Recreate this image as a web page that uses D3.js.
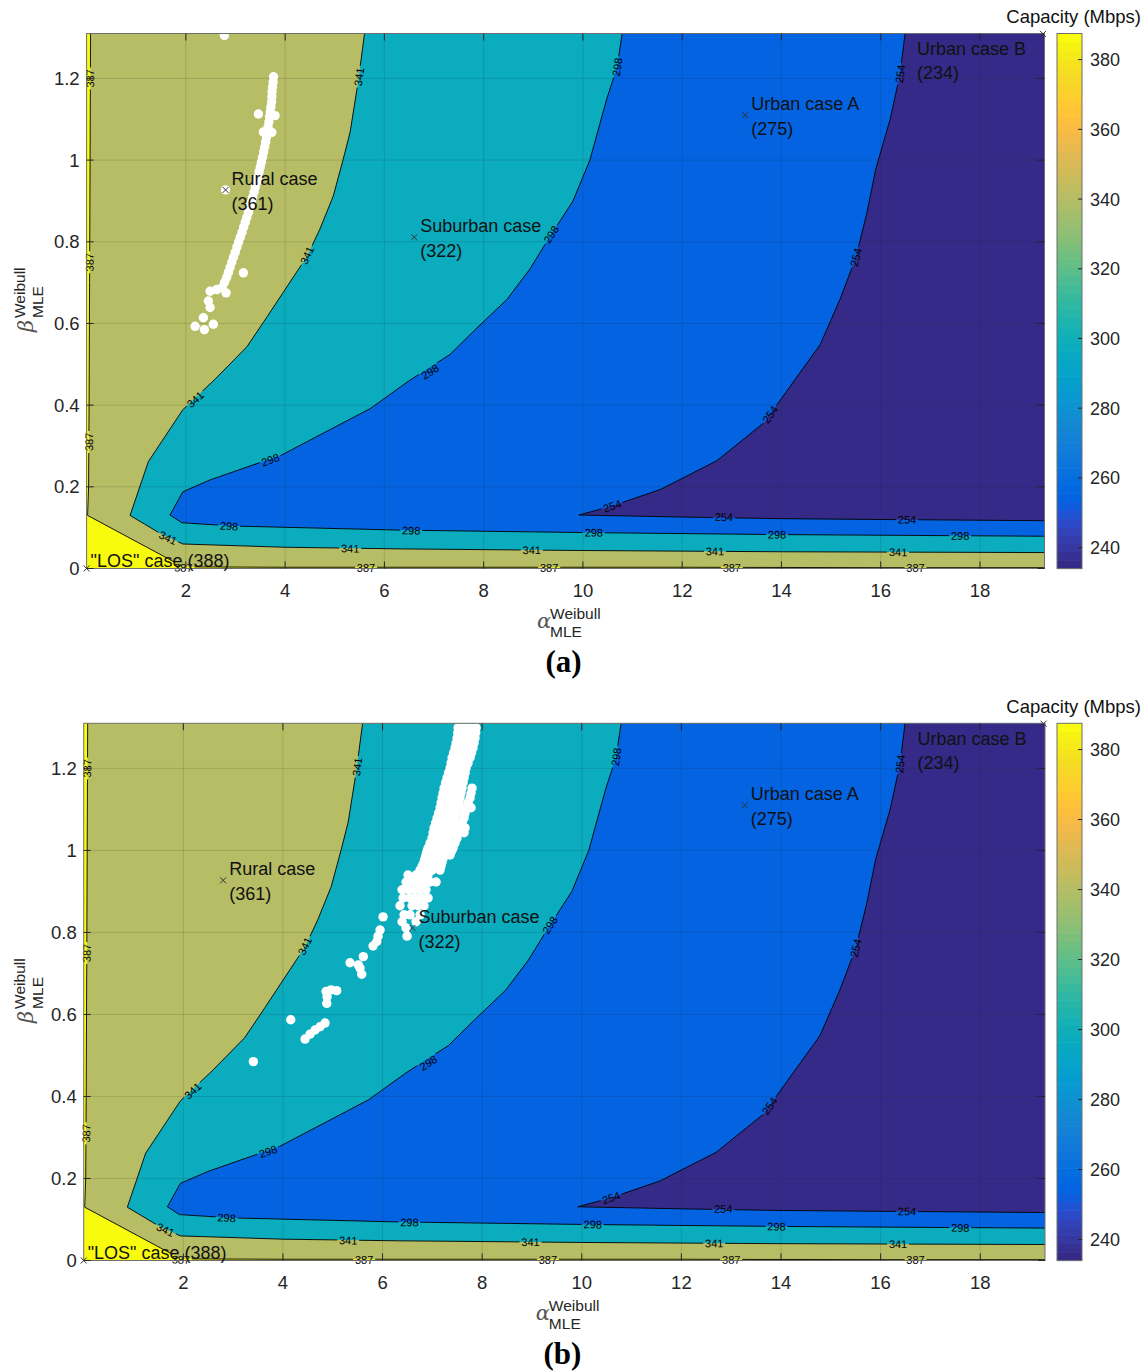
<!DOCTYPE html>
<html>
<head>
<meta charset="utf-8">
<script src="https://cdn.jsdelivr.net/npm/d3@7"></script>
<style>
  body { margin: 0; background: #fff; }
  svg text { font-family: "Liberation Sans", Arial, Helvetica, sans-serif; }
</style>
</head>
<body>
<svg id="chart" width="1147" height="1372"></svg>
<script>
// ---- Capacity field: contour levels (Mbps) and colour limits ----
const levels = [387, 341, 298, 254];
const colorLimits = [234, 387.5];

// ---- Axes ----
const alphaDomain = [0, 19.3];
const betaDomain = [0, 1.31];
const xTicks = [2, 4, 6, 8, 10, 12, 14, 16, 18];
const yTicks = [0, 0.2, 0.4, 0.6, 0.8, 1.0, 1.2];
const cbTicks = [240, 260, 280, 300, 320, 340, 360, 380];

// ---- Iso-capacity lines, [alpha, beta] ----
const contour387 = [[0.08, 1.31], [0.07, 1.0], [0.06, 0.7], [0.05, 0.4], [0.04, 0.2], [0.02, 0.13],
  [1.95, 0.004], [4, 0.003], [8, 0.003], [12, 0.003], [16, 0.002], [19.3, 0.002]];
const contour341 = [[5.60, 1.31], [5.47, 1.191], [5.31, 1.069], [5.17, 1.002], [4.97, 0.912], [4.70, 0.831],
  [4.44, 0.764], [3.96, 0.676], [3.64, 0.617], [3.23, 0.543], [2.60, 0.465], [1.94, 0.389], [1.245, 0.262],
  [0.876, 0.13], [1.48, 0.086], [1.94, 0.060], [4, 0.052], [6.32, 0.048], [10, 0.044], [14, 0.041], [19.3, 0.039]];
const contour298 = [[10.79, 1.31], [10.69, 1.228], [10.48, 1.15], [10.14, 1.0], [9.80, 0.90], [9.30, 0.806],
  [8.93, 0.733], [8.47, 0.659], [7.83, 0.585], [7.32, 0.524], [6.50, 0.460], [5.72, 0.392], [3.93, 0.278],
  [2.49, 0.217], [1.94, 0.188], [1.68, 0.131], [1.92, 0.112], [2.95, 0.104], [6.32, 0.094], [10, 0.088],
  [14, 0.083], [19.3, 0.079]];
const contour254 = [[16.49, 1.31], [16.39, 1.211], [16.19, 1.10], [15.90, 0.978], [15.72, 0.87], [15.50, 0.762],
  [15.18, 0.659], [14.78, 0.548], [14.27, 0.462], [13.65, 0.357], [12.70, 0.264], [11.57, 0.194], [10.59, 0.153],
  [9.92, 0.131], [12, 0.126], [14, 0.122], [16, 0.120], [19.3, 0.117]];

// ---- Inline contour label positions ----
const labels387 = [[0.07, 1.2], [0.06, 0.75], [0.05, 0.31], [1.95, 0.002], [5.63, 0.002], [9.32, 0.002], [13.0, 0.002], [16.7, 0.002]];
const labels341 = [[5.49, 1.204], [4.44, 0.767], [2.19, 0.414], [1.64, 0.075], [5.31, 0.049], [8.97, 0.045], [12.66, 0.042], [16.35, 0.040]];
const labels298 = [[10.69, 1.228], [9.36, 0.818], [6.92, 0.482], [3.70, 0.266], [2.87, 0.104], [6.54, 0.093], [10.22, 0.088], [13.91, 0.083], [17.60, 0.080]];
const labels254 = [[16.39, 1.211], [15.50, 0.762], [13.77, 0.377], [10.59, 0.153], [12.84, 0.126], [16.53, 0.120]];

// ---- Reference cases ----
const caseNames = ['"LOS" case', 'Rural case', 'Suburban case', 'Urban case A', 'Urban case B'];
const caseValues = [388, 361, 322, 275, 234];
const caseAlpha = [0, 2.8, 6.6, 13.27, 19.27];
const caseBeta = [0, 0.927, 0.811, 1.110, 1.309];

// ---- Estimated (alpha, beta) pairs, scenario (a) ----
const samplesA = [
  [3.767, 1.204], [3.757, 1.191], [3.747, 1.179], [3.737, 1.167], [3.733, 1.155], [3.727, 1.142], [3.713, 1.130],
  [3.701, 1.118], [3.686, 1.106], [3.672, 1.093], [3.656, 1.081], [3.640, 1.069], [3.624, 1.056], [3.608, 1.044],
  [3.588, 1.032], [3.568, 1.020], [3.545, 1.007], [3.521, 0.995], [3.499, 0.983], [3.475, 0.971], [3.451, 0.958],
  [3.425, 0.946], [3.398, 0.934], [3.374, 0.922], [3.346, 0.909], [3.320, 0.897], [3.294, 0.885], [3.261, 0.872],
  [3.229, 0.860], [3.197, 0.848], [3.165, 0.836], [3.130, 0.823], [3.096, 0.811], [3.062, 0.799], [3.028, 0.787],
  [2.994, 0.774], [2.959, 0.762], [2.925, 0.750], [2.891, 0.737], [2.857, 0.725], [2.822, 0.713], [2.780, 0.701],
  [2.730, 0.688], [2.623, 0.683], [2.488, 0.679], [2.454, 0.655], [2.488, 0.639], [2.353, 0.614], [2.186, 0.593],
  [2.373, 0.585], [2.554, 0.598], [2.810, 0.675], [3.159, 0.724], [3.461, 1.113], [3.797, 1.109], [3.562, 1.069],
  [3.731, 1.068], [2.776, 1.305], [2.8, 0.927]
];

// ---- Estimated (alpha, beta) pairs, scenario (b) ----
const samplesB = [
  [7.516, 1.299], [7.637, 1.299], [7.757, 1.299], [7.878, 1.299],
  [7.510, 1.287], [7.630, 1.287], [7.750, 1.287], [7.870, 1.287],
  [7.496, 1.274], [7.616, 1.274], [7.737, 1.274], [7.857, 1.274],
  [7.476, 1.262], [7.596, 1.262], [7.717, 1.262], [7.837, 1.262],
  [7.456, 1.250], [7.576, 1.250], [7.697, 1.250], [7.817, 1.250],
  [7.426, 1.238], [7.546, 1.238], [7.667, 1.238], [7.787, 1.238],
  [7.396, 1.226], [7.516, 1.226], [7.637, 1.226], [7.757, 1.226],
  [7.375, 1.213], [7.496, 1.213], [7.616, 1.213], [7.717, 1.213],
  [7.355, 1.201], [7.476, 1.201], [7.596, 1.201], [7.677, 1.201],
  [7.325, 1.189], [7.446, 1.189], [7.566, 1.189], [7.657, 1.189],
  [7.295, 1.177], [7.416, 1.177], [7.536, 1.177], [7.637, 1.177],
  [7.265, 1.165], [7.386, 1.165], [7.506, 1.165], [7.617, 1.165],
  [7.235, 1.152], [7.355, 1.152], [7.476, 1.152], [7.596, 1.152], [7.797, 1.152],
  [7.215, 1.140], [7.335, 1.140], [7.456, 1.140], [7.576, 1.140], [7.777, 1.140],
  [7.195, 1.128], [7.315, 1.128], [7.436, 1.128], [7.556, 1.128], [7.757, 1.128],
  [7.175, 1.116], [7.295, 1.116], [7.416, 1.116], [7.536, 1.116], [7.717, 1.116],
  [7.155, 1.104], [7.275, 1.104], [7.396, 1.104], [7.516, 1.104], [7.677, 1.104], [7.777, 1.104],
  [7.125, 1.091], [7.245, 1.091], [7.366, 1.091], [7.486, 1.091], [7.657, 1.091],
  [7.094, 1.079], [7.215, 1.079], [7.335, 1.079], [7.456, 1.079], [7.637, 1.079],
  [7.064, 1.067], [7.185, 1.067], [7.305, 1.067], [7.426, 1.067], [7.597, 1.067],
  [7.034, 1.055], [7.155, 1.055], [7.275, 1.055], [7.396, 1.055], [7.556, 1.055], [7.657, 1.055],
  [7.014, 1.043], [7.135, 1.043], [7.255, 1.043], [7.376, 1.043], [7.527, 1.043], [7.637, 1.043],
  [6.994, 1.030], [7.114, 1.030], [7.235, 1.030], [7.355, 1.030], [7.496, 1.030],
  [6.954, 1.018], [7.074, 1.018], [7.195, 1.018], [7.315, 1.018], [7.456, 1.018],
  [6.914, 1.006], [7.034, 1.006], [7.155, 1.006], [7.275, 1.006], [7.416, 1.006],
  [6.893, 0.998], [7.014, 0.998], [7.135, 0.998], [7.255, 0.998], [7.386, 0.998],
  [6.873, 0.989], [6.994, 0.989], [7.114, 0.989], [7.235, 0.989], [7.355, 0.989],
  [6.853, 0.980], [6.974, 0.980], [7.094, 0.980], [7.215, 0.980],
  [6.833, 0.972], [6.954, 0.972], [7.074, 0.972], [7.195, 0.972],
  [6.793, 0.962], [6.914, 0.962], [7.034, 0.962], [7.175, 0.962],
  [6.753, 0.952], [6.873, 0.952], [6.994, 0.952], [7.155, 0.952],
  [6.512, 0.940], [6.673, 0.940], [6.793, 0.940], [6.914, 0.940],
  [6.472, 0.923], [6.592, 0.923], [6.713, 0.923], [6.833, 0.923], [6.954, 0.923], [7.074, 0.923],
  [6.392, 0.904], [6.512, 0.904], [6.633, 0.904], [6.753, 0.904], [6.873, 0.904],
  [6.412, 0.884], [6.552, 0.884], [6.673, 0.884], [6.793, 0.884], [6.914, 0.884],
  [6.351, 0.865], [6.592, 0.865], [6.713, 0.865], [6.833, 0.865],
  [6.432, 0.843], [6.552, 0.843], [6.753, 0.843],
  [6.392, 0.826], [6.673, 0.826], [6.472, 0.811], [6.492, 0.791],
  [5.884, 0.778], [5.950, 0.806], [6.010, 0.838], [5.910, 0.791], [5.809, 0.767], [5.614, 0.741],
  [5.514, 0.721], [5.347, 0.726], [5.582, 0.698], [5.548, 0.713], [5.080, 0.658], [4.966, 0.660],
  [4.865, 0.656], [4.886, 0.643], [4.880, 0.627], [4.157, 0.587], [4.845, 0.579], [4.745, 0.570],
  [4.645, 0.562], [4.544, 0.552], [4.444, 0.540], [3.406, 0.485]
];

// ---- Parula colormap, 64 entries ----
const parula = [
  [0.2081,0.1663,0.5292],[0.2116,0.1898,0.5777],[0.2123,0.2138,0.6270],[0.2081,0.2386,0.6771],
  [0.1959,0.2645,0.7279],[0.1707,0.2919,0.7792],[0.1253,0.3242,0.8303],[0.0591,0.3598,0.8683],
  [0.0117,0.3875,0.8820],[0.0060,0.4086,0.8828],[0.0165,0.4266,0.8786],[0.0329,0.4430,0.8720],
  [0.0498,0.4586,0.8641],[0.0629,0.4737,0.8554],[0.0723,0.4887,0.8467],[0.0779,0.5040,0.8384],
  [0.0793,0.5200,0.8312],[0.0749,0.5375,0.8263],[0.0641,0.5570,0.8240],[0.0488,0.5772,0.8228],
  [0.0343,0.5966,0.8199],[0.0265,0.6137,0.8135],[0.0239,0.6287,0.8038],[0.0231,0.6418,0.7913],
  [0.0228,0.6535,0.7768],[0.0267,0.6642,0.7607],[0.0384,0.6743,0.7436],[0.0590,0.6838,0.7254],
  [0.0843,0.6928,0.7062],[0.1133,0.7015,0.6859],[0.1453,0.7098,0.6646],[0.1801,0.7177,0.6424],
  [0.2178,0.7250,0.6193],[0.2586,0.7317,0.5954],[0.3022,0.7376,0.5712],[0.3482,0.7424,0.5473],
  [0.3953,0.7459,0.5244],[0.4420,0.7481,0.5033],[0.4871,0.7491,0.4840],[0.5300,0.7491,0.4661],
  [0.5709,0.7485,0.4494],[0.6099,0.7473,0.4337],[0.6473,0.7456,0.4188],[0.6834,0.7435,0.4044],
  [0.7184,0.7411,0.3905],[0.7525,0.7384,0.3768],[0.7858,0.7356,0.3633],[0.8185,0.7327,0.3498],
  [0.8507,0.7299,0.3360],[0.8824,0.7274,0.3217],[0.9139,0.7258,0.3063],[0.9450,0.7261,0.2886],
  [0.9739,0.7314,0.2666],[0.9938,0.7455,0.2403],[0.9990,0.7653,0.2164],[0.9955,0.7861,0.1967],
  [0.9880,0.8066,0.1794],[0.9789,0.8271,0.1633],[0.9697,0.8481,0.1475],[0.9626,0.8705,0.1309],
  [0.9589,0.8949,0.1132],[0.9598,0.9218,0.0948],[0.9661,0.9514,0.0755],[0.9763,0.9831,0.0538]
];

const toColor = c => d3.rgb(c[0] * 255, c[1] * 255, c[2] * 255).formatHex();
const cNorm = d3.scaleLinear().domain(colorLimits).range([0, 1]).clamp(true);
const colorOf = v => toColor(parula[Math.max(0, Math.min(63, Math.floor(cNorm(v) * 64)))]);

const contours = { 387: contour387, 341: contour341, 298: contour298, 254: contour254 };
const contourLabels = { 387: labels387, 341: labels341, 298: labels298, 254: labels254 };

const svg = d3.select('#chart');
const defs = svg.append('defs');

const panels = [
  { id: 'a', samples: samplesA, left: 86.6, right: 1044.5, top: 33.5, bottom: 568.5, title: '(a)' },
  { id: 'b', samples: samplesB, left: 83.7, right: 1045, top: 723.3, bottom: 1260.5, title: '(b)' }
];

const axisColor = '#262626';

function drawPanel(p) {
  const x = d3.scaleLinear().domain(alphaDomain).range([p.left, p.right]);
  const y = d3.scaleLinear().domain(betaDomain).range([p.bottom, p.top]);
  const g = svg.append('g').attr('class', 'panel-' + p.id);
  const w = p.right - p.left, h = p.bottom - p.top;

  defs.append('clipPath').attr('id', 'clip-' + p.id)
    .append('rect').attr('x', p.left).attr('y', p.top).attr('width', w).attr('height', h);

  const line = d3.line().x(d => x(d[0])).y(d => y(d[1]));

  // filled bands: region above the top level, then each "below level" region
  const fills = g.append('g').attr('clip-path', `url(#clip-${p.id})`);
  fills.append('rect').attr('x', p.left).attr('y', p.top).attr('width', w).attr('height', h)
    .attr('fill', colorOf(levels[0]));
  levels.forEach((lv, i) => {
    const below = i + 1 < levels.length ? levels[i + 1] : colorLimits[0];
    const poly = contours[lv].concat([[alphaDomain[1], betaDomain[1]]]);
    fills.append('path').attr('d', line(poly) + 'Z').attr('fill', colorOf(below));
  });

  // label geometry: angle from nearest contour segment
  const labelItems = [];
  levels.forEach(lv => {
    const pts = contours[lv].map(d => [x(d[0]), y(d[1])]);
    contourLabels[lv].forEach(pos => {
      const px = x(pos[0]), py = y(pos[1]);
      let best = Infinity, ang = 0;
      for (let k = 0; k < pts.length - 1; k++) {
        const [x1, y1] = pts[k], [x2, y2] = pts[k + 1];
        const dx = x2 - x1, dy = y2 - y1;
        const L2 = dx * dx + dy * dy || 1;
        let t = ((px - x1) * dx + (py - y1) * dy) / L2;
        t = Math.max(0, Math.min(1, t));
        const qx = x1 + t * dx, qy = y1 + t * dy;
        const dist = Math.hypot(px - qx, py - qy);
        if (dist < best) { best = dist; ang = Math.atan2(dy, dx) * 180 / Math.PI; }
      }
      if (ang >= 90) ang -= 180;
      if (ang < -90) ang += 180;
      labelItems.push({ lv, px, py, ang });
    });
  });

  // mask that opens gaps in the contour lines where the labels sit
  const mask = defs.append('mask').attr('id', 'gap-' + p.id).attr('maskUnits', 'userSpaceOnUse')
    .attr('x', 0).attr('y', 0).attr('width', 1147).attr('height', 1372);
  mask.append('rect').attr('x', 0).attr('y', 0).attr('width', 1147).attr('height', 1372).attr('fill', '#fff');
  labelItems.forEach(d => {
    mask.append('rect').attr('x', -11).attr('y', -5.5).attr('width', 22).attr('height', 11)
      .attr('fill', '#000').attr('transform', `translate(${d.px},${d.py}) rotate(${d.ang})`);
  });

  const lines = g.append('g').attr('clip-path', `url(#clip-${p.id})`)
    .append('g').attr('mask', `url(#gap-${p.id})`);
  levels.forEach(lv => {
    lines.append('path').attr('d', line(contours[lv])).attr('fill', 'none')
      .attr('stroke', '#000').attr('stroke-width', 0.9);
  });

  // grid
  const grid = g.append('g').attr('stroke', '#262626').attr('stroke-opacity', 0.15).attr('stroke-width', 1);
  xTicks.forEach(t => grid.append('line').attr('x1', x(t)).attr('x2', x(t)).attr('y1', p.top).attr('y2', p.bottom));
  yTicks.filter(t => t > 0).forEach(t => grid.append('line').attr('x1', p.left).attr('x2', p.right).attr('y1', y(t)).attr('y2', y(t)));

  // samples
  g.append('g').attr('clip-path', `url(#clip-${p.id})`)
    .selectAll('circle').data(p.samples).join('circle')
    .attr('cx', d => x(d[0])).attr('cy', d => y(d[1])).attr('r', 4.7).attr('fill', '#fff');

  // contour labels
  g.append('g').selectAll('text').data(labelItems).join('text')
    .attr('transform', d => `translate(${d.px},${d.py}) rotate(${d.ang})`)
    .attr('text-anchor', 'middle').attr('dy', '0.36em')
    .attr('font-size', 11).attr('fill', '#000')
    .text(d => d.lv);

  // frame and ticks (inward, all four sides)
  const axes = g.append('g');
  axes.append('rect').attr('x', p.left).attr('y', p.top).attr('width', w).attr('height', h)
    .attr('fill', 'none').attr('stroke', '#6e6e6e').attr('stroke-width', 1);
  const tk = axes.append('g').attr('stroke', axisColor).attr('stroke-width', 1);
  xTicks.forEach(t => {
    tk.append('line').attr('x1', x(t)).attr('x2', x(t)).attr('y1', p.bottom).attr('y2', p.bottom - 7);
    tk.append('line').attr('x1', x(t)).attr('x2', x(t)).attr('y1', p.top).attr('y2', p.top + 7);
  });
  yTicks.forEach(t => {
    tk.append('line').attr('x1', p.left).attr('x2', p.left + 7).attr('y1', y(t)).attr('y2', y(t));
    tk.append('line').attr('x1', p.right).attr('x2', p.right - 7).attr('y1', y(t)).attr('y2', y(t));
  });
  axes.append('g').selectAll('text').data(xTicks).join('text')
    .attr('x', d => x(d)).attr('y', p.bottom + 28.5).attr('text-anchor', 'middle')
    .attr('font-size', 18.5).attr('fill', axisColor).text(d => d);
  axes.append('g').selectAll('text').data(yTicks).join('text')
    .attr('x', p.left - 7).attr('y', d => y(d)).attr('dy', '0.36em').attr('text-anchor', 'end')
    .attr('font-size', 18.5).attr('fill', axisColor).text(d => d3.format('~g')(d));

  // reference case markers and labels
  caseNames.forEach((name, i) => {
    const mx = x(caseAlpha[i]), my = y(caseBeta[i]);
    g.append('path').attr('d', `M${mx - 3},${my - 3}L${mx + 3},${my + 3}M${mx - 3},${my + 3}L${mx + 3},${my - 3}`)
      .attr('stroke', '#333').attr('stroke-width', 1);
    const t = g.append('text').attr('font-size', 18).attr('fill', '#111');
    if (i === 0) {
      t.attr('x', mx + 4).attr('y', my - 2).text(`${name} (${caseValues[i]})`);
    } else if (i === caseNames.length - 1) {
      t.append('tspan').attr('x', mx - 126).attr('y', my + 21).text(name);
      t.append('tspan').attr('x', mx - 126).attr('y', my + 45).text(`(${caseValues[i]})`);
    } else {
      t.append('tspan').attr('x', mx + 6).attr('y', my - 5).text(name);
      t.append('tspan').attr('x', mx + 6).attr('y', my + 20).text(`(${caseValues[i]})`);
    }
  });

  // axis labels
  const cx = (p.left + p.right) / 2;
  g.append('text').attr('x', cx - 28.5).attr('y', p.bottom + 59.5)
    .attr('font-size', 21).attr('font-style', 'italic').attr('fill', '#555')
    .style('font-family', '"DejaVu Serif", serif').text('α');
  g.append('text').attr('x', cx - 15.5).attr('y', p.bottom + 50.5).attr('font-size', 15.5).attr('fill', axisColor).text('Weibull');
  g.append('text').attr('x', cx - 15.5).attr('y', p.bottom + 68.5).attr('font-size', 15.5).attr('fill', axisColor).text('MLE');

  const cy = (p.top + p.bottom) / 2;
  const yl = g.append('g').attr('transform', 'rotate(-90)');
  yl.append('text').attr('x', -(cy + 31)).attr('y', 33)
    .attr('font-size', 21).attr('font-style', 'italic').attr('fill', '#555')
    .style('font-family', '"DejaVu Serif", serif').text('β');
  yl.append('text').attr('x', -(cy + 17)).attr('y', 25).attr('font-size', 15.5).attr('fill', axisColor).text('Weibull');
  yl.append('text').attr('x', -(cy + 17)).attr('y', 43).attr('font-size', 15.5).attr('fill', axisColor).text('MLE');

  // panel title
  g.append('text').attr('x', cx - 2).attr('y', p.bottom + 103.5).attr('text-anchor', 'middle')
    .attr('font-size', 31).attr('font-weight', 'bold').style('font-family', '"Liberation Serif", "Times New Roman", serif')
    .attr('fill', '#000').text(p.title);

  // colorbar
  const cbLeft = 1057, cbW = 25;
  const cy2 = d3.scaleLinear().domain(colorLimits).range([p.bottom, p.top]);
  const steps = d3.range(64);
  const stepVal = i => colorLimits[0] + i * (colorLimits[1] - colorLimits[0]) / 64;
  const cb = g.append('g');
  cb.selectAll('rect').data(steps).join('rect')
    .attr('x', cbLeft).attr('width', cbW)
    .attr('y', i => cy2(stepVal(i + 1)))
    .attr('height', i => cy2(stepVal(i)) - cy2(stepVal(i + 1)) + 0.6)
    .attr('fill', i => toColor(parula[i]));
  cb.append('rect').attr('x', cbLeft).attr('y', p.top).attr('width', cbW).attr('height', h)
    .attr('fill', 'none').attr('stroke', '#6e6e6e').attr('stroke-width', 1);
  cbTicks.forEach(t => {
    cb.append('line').attr('x1', cbLeft + cbW).attr('x2', cbLeft + cbW - 4).attr('y1', cy2(t)).attr('y2', cy2(t))
      .attr('stroke', axisColor);
    cb.append('text').attr('x', cbLeft + cbW + 8).attr('y', cy2(t)).attr('dy', '0.36em')
      .attr('font-size', 18).attr('fill', axisColor).text(t);
  });
  cb.append('text').attr('x', 1141).attr('y', p.top - 10.5).attr('text-anchor', 'end')
    .attr('font-size', 18.5).attr('fill', '#111').text('Capacity (Mbps)');
}

panels.forEach(drawPanel);
</script>
</body>
</html>
